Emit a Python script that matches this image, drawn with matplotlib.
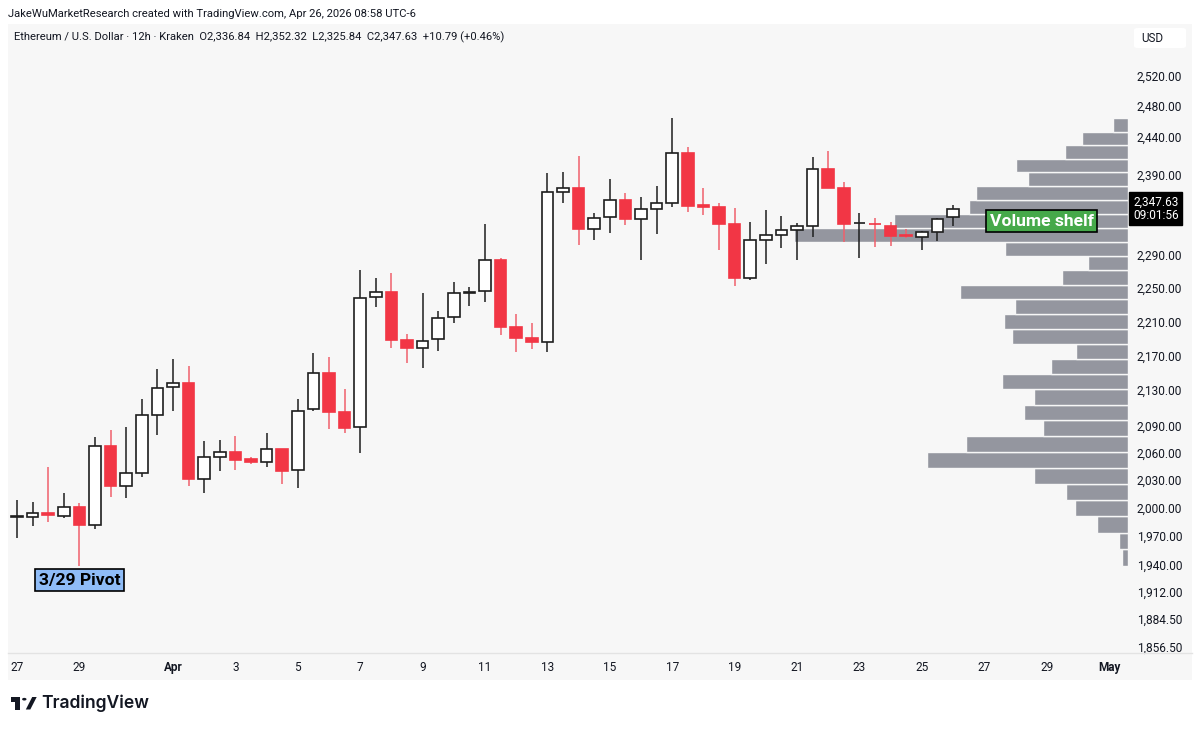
import matplotlib
matplotlib.use("Agg")
import matplotlib.pyplot as plt
import matplotlib.transforms as mtransforms
from matplotlib.patches import Rectangle, Polygon, Circle, FancyBboxPatch
import numpy as np

# ---------------- data (ETH/USD, 12h candles from Mar 27 2026) ----------------
opens = [1990, 1990, 1994.5, 1991.7, 2001, 1981.7, 2067.7, 2023.6, 2038.2, 2102,
         2133.3, 2138.2, 2030.9, 2055.6, 2061, 2052.7, 2049.5, 2063.6, 2041, 2108.4,
         2150, 2105.5, 2088.2, 2238.7, 2245.4, 2188, 2178.4, 2188.8, 2214.8, 2244.4,
         2245.9, 2283.8, 2203, 2190, 2186, 2368.4, 2373, 2321.9, 2336.7, 2358.9,
         2334.7, 2347.2, 2354.3, 2418, 2351.8, 2349.8, 2328.7, 2261.5, 2308.2, 2314.2,
         2320.4, 2326.2, 2397.4, 2373, 2329.4, 2328.7, 2326.3, 2314, 2312.3, 2318.5,
         2336.84]
highs = [2008, 2006, 2044, 2016.3, 2005, 2077.7, 2085.2, 2088.2, 2119.7, 2154.4,
         2165.6, 2157.3, 2072.9, 2074, 2078.8, 2055.3, 2082, 2064, 2119.7, 2172.5,
         2167.9, 2132, 2271.5, 2261.5, 2267.6, 2194.6, 2244.2, 2222.5, 2256.7, 2250.7,
         2328.3, 2286.6, 2218.4, 2208.6, 2393, 2394, 2414.6, 2342.2, 2384.7, 2367.4,
         2362.3, 2376, 2463.7, 2425.8, 2373.6, 2354, 2348.5, 2330.8, 2345.5, 2337.9,
         2329.8, 2412.9, 2421.7, 2380.6, 2342.5, 2335.4, 2330.5, 2321.5, 2319, 2335.3,
         2352.32]
lows = [1968, 1981, 1985, 1988.9, 1938.5, 1977.4, 2011.3, 2010.3, 2033, 2080,
        2106.5, 2023.6, 2015.6, 2040.3, 2041, 2047.3, 2044, 2025.8, 2021.1, 2107,
        2086.6, 2081.5, 2059.4, 2226.8, 2179.1, 2161, 2156, 2175.2, 2207.7, 2228.4,
        2232.7, 2194, 2174.4, 2177.2, 2173.7, 2354.8, 2302.4, 2308.7, 2317.1, 2327.5,
        2283.7, 2315.8, 2349.8, 2343.5, 2339.2, 2296, 2252.5, 2259.5, 2278.5, 2298.7,
        2283.4, 2312.5, 2373, 2306.4, 2286, 2300, 2300.6, 2310.3, 2296, 2307.2,
        2325.84]
closes = [1991, 1995, 1992.4, 2001.3, 1981.7, 2067, 2023.6, 2037.8, 2102, 2132.9,
          2138, 2031.5, 2055.3, 2061, 2052, 2049.8, 2063.6, 2040.3, 2106.2, 2150,
          2105.8, 2087.8, 2238.2, 2245, 2188, 2178.4, 2187.2, 2214.4, 2243.5, 2244.9,
          2283.8, 2203.7, 2190, 2186, 2368.1, 2373.5, 2321.9, 2336, 2358.9, 2335,
          2346.7, 2354, 2418.8, 2351.4, 2349.8, 2328.7, 2261.5, 2308.3, 2314, 2320.6,
          2326.3, 2397.4, 2373.2, 2328.7, 2329.8, 2327.8, 2313.9, 2313, 2318.5, 2335,
          2347.63]

# fixed-range volume profile (relative volume per row, lowest price row first)
vp_volume = [6.2, 8.5, 30.8, 52.8, 61.5, 93.5, 200.5, 161.5, 84.8, 103.5,
             93.8, 125.8, 76.8, 51.5, 115.8, 124.2, 112.8, 167.5, 65.8, 40.2,
             123.2, 333.5, 233.5, 158.5, 151.5, 99.5, 112.2, 62.8, 45.5, 14.5]

price_ticks = [2520, 2480, 2440, 2390, 2290, 2250, 2210, 2170, 2130, 2090,
               2060, 2030, 2000, 1970, 1940, 1912, 1884.5, 1856.5]
date_tick_days = [0, 2, 5, 7, 9, 11, 13, 15, 17, 19, 21, 23, 25, 27, 29, 31, 33, 35]
date_tick_labels = ["27", "29", "Apr", "3", "5", "7", "9", "11", "13", "15",
                    "17", "19", "21", "23", "25", "27", "29", "May"]

header1 = "JakeWuMarketResearch created with TradingView.com, Apr 26, 2026 08:58 UTC-6"
header2 = ("Ethereum / U.S. Dollar · 12h · Kraken  O2,336.84  H2,352.32  "
           "L2,325.84  C2,347.63  +10.79 (+0.46%)")
countdown = "09:01:56"

# ---------------- styling ----------------
W, H = 1200, 729
BG = "#f7f7f7"
TXT = "#131722"
UP_EDGE = "#1e1e1e"
DOWN = "#f23645"
DOWN_WICK = "#f0606c"
VP_COL = "#94969f"
FONT = ["Roboto", "DejaVu Sans"]
plt.rcParams["font.family"] = FONT

fig = plt.figure(figsize=(W / 100, H / 100), dpi=100, facecolor="white")


def rect(x0, y0, x1, y1):
    return [x0 / W, 1 - y1 / H, (x1 - x0) / W, (y1 - y0) / H]


def fx(x):
    return x / W


def fy(y):
    return 1 - y / H


# chart panel background
fig.patches.append(Rectangle((fx(8), fy(680)), (1192 - 8) / W, (680 - 24) / H,
                             transform=fig.transFigure, facecolor=BG,
                             edgecolor="none", zorder=-5))

ax_rect = rect(8, 24, 1128, 652)
ax_vp = fig.add_axes(ax_rect)
ax = fig.add_axes(ax_rect, sharey=ax_vp)
ax_vp.set_facecolor(BG)
ax.set_facecolor("none")

y_min, y_max = 1851.5, 2591.4
ax_vp.set_yscale("log")
ax_vp.set_ylim(y_min, y_max)

# volume profile rows (equal price bins between range low and high)
edges = np.linspace(min(lows), max(highs), len(vp_volume) + 1)
ax_vp.barh(edges[:-1], vp_volume, height=np.diff(edges), left=0, align="edge",
           color=VP_COL, edgecolor=BG, linewidth=1.0)
ax_vp.set_xlim(max(vp_volume) * 3.358, 0)
ax_vp.set_xticks([])
ax_vp.tick_params(axis="y", which="both", left=False, right=False,
                  labelleft=False, labelright=False)
for s in ax_vp.spines.values():
    s.set_visible(False)

# candles
days = np.arange(len(opens)) * 0.5
o = np.array(opens)
c = np.array(closes)
hi = np.array(highs)
lo = np.array(lows)
up = c >= o
bw = 0.37
ax.vlines(days[up], lo[up], hi[up], color=UP_EDGE, lw=1.1, zorder=2)
ax.vlines(days[~up], lo[~up], hi[~up], color=DOWN_WICK, lw=1.1, zorder=2)
bottoms = np.minimum(o, c)
heights = np.maximum(np.abs(c - o), 0.01)
ax.bar(days[up], heights[up], bottom=bottoms[up], width=bw, color="white",
       edgecolor=UP_EDGE, linewidth=1.2, zorder=3)
ax.bar(days[~up], heights[~up], bottom=bottoms[~up], width=bw, color=DOWN,
       edgecolor=DOWN, linewidth=1.2, zorder=3)

ax.set_xlim(-0.2885, 35.609)
ax.set_xticks(date_tick_days)
ax.set_xticklabels(date_tick_labels)
for lbl in ax.get_xticklabels():
    if lbl.get_text() in ("Apr", "May"):
        lbl.set_fontweight("bold")
ax.tick_params(axis="x", length=0, pad=6.3, labelsize=8.5, colors=TXT)

ax.yaxis.tick_right()
ax.set_yticks(price_ticks)
ax.set_yticklabels([f"{p:,.2f}" for p in price_ticks])
ax.yaxis.set_minor_locator(matplotlib.ticker.NullLocator())
ax_vp.yaxis.set_minor_locator(matplotlib.ticker.NullLocator())
ax.tick_params(axis="y", length=0, pad=6.3, labelsize=8.6, colors=TXT)
for s in ax.spines.values():
    s.set_visible(False)

# x-axis separator line
fig.lines.append(plt.Line2D([fx(8), fx(1192)], [fy(652.5), fy(652.5)],
                            transform=fig.transFigure, color="#e3e3e3", lw=1))

# last price label on the price scale
blend = mtransforms.blended_transform_factory(ax.transAxes, ax.transData)
last_close = closes[-1]
ax.text(1.0045, last_close, f"{last_close:,.2f}\n{countdown}", transform=blend,
        ha="left", va="center", color="white", fontsize=8.6, linespacing=1.05,
        bbox=dict(boxstyle="square,pad=0.3", facecolor="black",
                  edgecolor="black"), zorder=10, clip_on=False)

# annotations
piv = int(np.argmin(lows))
ax.annotate("3/29 Pivot", xy=(days[piv], lows[piv]), xytext=(0, -14),
            textcoords="offset pixels", ha="center", va="center",
            fontsize=12.6, fontweight="bold", color="black",
            bbox=dict(boxstyle="square,pad=0.2", facecolor="#8fbcf7",
                      edgecolor="black", linewidth=1.2), zorder=6)
ax.text(32.84, 2332.0, "Volume shelf", ha="center", va="center", fontsize=12.6,
        fontweight="bold", color="white",
        bbox=dict(boxstyle="square,pad=0.2", facecolor="#46a94a",
                  edgecolor="black", linewidth=1.2), zorder=6)

# header texts
fig.text(fx(8), fy(14), header1, ha="left", va="center", fontsize=8.15, color=TXT)
fig.text(fx(14), fy(37.5), header2, ha="left", va="center", fontsize=8.1, color=TXT)

# USD box
fig.patches.append(FancyBboxPatch((fx(1134), fy(48)), 52 / W, 20 / H,
                                  boxstyle="round,pad=0,rounding_size=0.003",
                                  transform=fig.transFigure, facecolor="white",
                                  edgecolor="none"))
fig.text(fx(1141), fy(38), "USD", ha="left", va="center", fontsize=8.4, color=TXT)

# TradingView logo
logo_col = "#131722"
fig.patches.append(Polygon([(fx(10.7), fy(697)), (fx(19.8), fy(697)), (fx(19.8), fy(709.5)),
                            (fx(15.3), fy(709.5)), (fx(15.3), fy(701.5)), (fx(10.7), fy(701.5))],
                           closed=True, transform=fig.transFigure, facecolor=logo_col,
                           edgecolor="none"))
fig.patches.append(Circle((fx(24.3), fy(699.2)), 2.2 / W, transform=fig.transFigure,
                          facecolor=logo_col, edgecolor="none"))
fig.patches.append(Polygon([(fx(25.8), fy(709.5)), (fx(30.3), fy(709.5)), (fx(36.7), fy(697)),
                            (fx(32.2), fy(697))], closed=True, transform=fig.transFigure,
                           facecolor=logo_col, edgecolor="none"))
fig.text(fx(41), fy(703.5), "TradingView", ha="left", va="center", fontsize=12.6,
         fontweight="semibold", family=["Inter", "DejaVu Sans"], color=logo_col)

fig.savefig("out.png", dpi=100, facecolor="white")
